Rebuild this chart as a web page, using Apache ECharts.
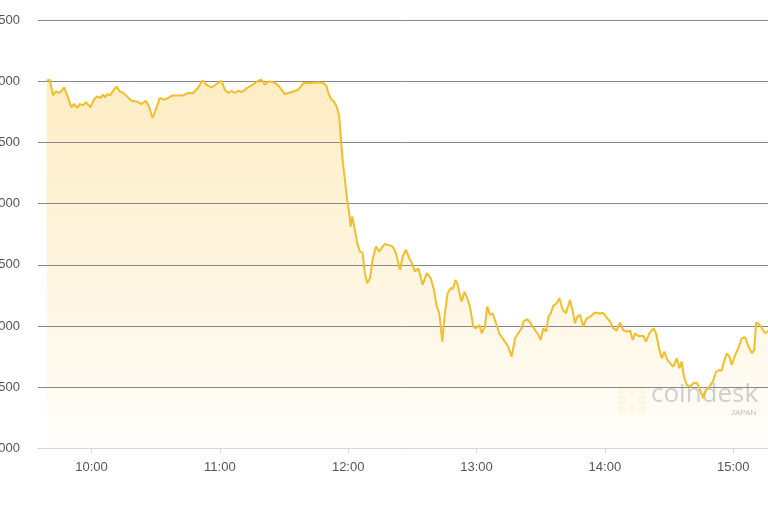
<!DOCTYPE html>
<html>
<head>
<meta charset="utf-8">
<script src="https://cdn.jsdelivr.net/npm/echarts@6/dist/echarts.min.js"></script>
<style>
html,body{margin:0;padding:0;background:#fff;}
#chart{width:768px;height:512px;}
</style>
</head>
<body>
<div id="chart"></div>
<script>
// time in minutes since midnight
const times = [579,580.5,582,583.3,584.8,586,587.2,588.8,590.6,591.9,
593.3,594.5,596.1,597.3,599.5,601.1,602.6,604.2,605.4,606.4,
607.3,608.6,610.1,611.7,613.2,614.8,616.7,618.7,621,623.4,
625.4,626.9,628.5,630.1,631.9,633.8,635.8,637.9,639.8,642.8,
645.2,647.5,649.9,651.9,653.8,656.1,658.5,660.8,662.3,663.9,
665.5,667,668.6,670.2,672.2,674,676.4,677.9,679.5,681.1,
682.6,684.9,687.3,690.4,693.5,696.6,699,702.1,705.2,706.8,
708.3,709.9,710.7,712.2,713.3,714.6,715.8,716.5,717.4,718.5,
719.5,720.5,721.1,721.9,723.1,724.2,725.5,726.7,727.8,728.9,
730.2,731.4,733,734.5,736.1,737.2,738.7,740.8,742.3,744.2,
745.5,747,748.5,749.7,751.2,752.8,754.8,756.7,758.6,760.1,
761.4,762.6,764,765.2,766.5,767.9,769.1,770.1,771,771.9,
773,774.3,775.4,776.9,778.5,779.7,781.3,782.4,783.9,785,
786.3,787.5,789.1,790.6,792.2,793.8,794.8,796.4,798,799.5,
801.1,801.9,803.7,805.3,807.3,808.9,810,811.2,812.5,813.6,
814.7,815.9,817.5,818.7,820.3,821.8,823.7,825,826,827.1,
828.4,829.9,831.2,833.1,834.9,836.5,837.7,839,840.5,842.4,
843.9,845.5,847.1,848.6,850.2,851.8,853,854.1,855.6,858,
859.2,860.8,862.7,863.9,865.5,866.6,867.8,869.2,870.5,872,
873.6,874.8,875.9,877,878.3,879.8,881.4,883,884.5,886,
887.3,888.8,890.4,892,893.5,894.6,895.9,897,898.2,899.3,
900.9,902.4,904,905.6,907.1,908.7,909.8,910.7,911.8,913.4,
914.9,916,918];

const prices = [10005,10012,9884,9917,9904,9922,9949,9876,9786,9814,
9781,9814,9802,9830,9786,9849,9876,9863,9890,9868,
9895,9884,9922,9957,9917,9904,9876,9841,9835,9814,
9841,9794,9699,9767,9863,9849,9863,9884,9884,9884,
9904,9904,9949,10007,9971,9949,9977,10004,9931,9904,
9922,9904,9922,9912,9939,9957,9985,10004,10012,9971,
9998,9993,9966,9895,9912,9930,9985,9985,9990,9990,
9985,9960,9904,9849,9835,9794,9712,9549,9358,9194,
9030,8922,8813,8895,8786,8677,8608,8600,8432,8350,
8391,8541,8649,8608,8649,8671,8663,8649,8595,8459,
8568,8623,8557,8514,8445,8473,8336,8432,8391,8295,
8159,8105,7873,8105,8268,8309,8309,8377,8350,8281,
8200,8281,8241,8159,7995,7982,8009,7941,7995,8159,
8091,8105,8023,7941,7900,7860,7832,7750,7900,7941,
7982,8036,8056,8023,7968,7927,7886,7982,7955,8077,
8105,8165,8187,8227,8132,8105,8214,8118,8023,8077,
8091,7995,8056,8077,8105,8110,8099,8110,8077,8036,
7982,7963,8028,7968,7954,7963,7886,7941,7919,7919,
7873,7941,7982,7941,7805,7737,7791,7723,7696,7668,
7737,7655,7709,7586,7519,7505,7533,7537,7478,7410,
7478,7505,7546,7627,7641,7635,7723,7778,7750,7682,
7764,7819,7900,7909,7832,7778,7805,8028,8023,7982,
7941,7954,7960];

const xTickValues = [600, 660, 720, 780, 840, 900]; // 10:00 ... 15:00
const yMin = 7000, yMax = 10500, yStep = 500;

const data = times.map((t, i) => [t, prices[i]]);
const fmtTime = v => Math.floor(v / 60) + ':' + String(Math.round(v % 60)).padStart(2, '0');
const fmtNum = v => v.toLocaleString('en-US');

const chart = echarts.init(document.getElementById('chart'), null, {renderer: 'canvas'});
const FONT = '"Liberation Sans", "DejaVu Sans", sans-serif';

chart.setOption({
  animation: false,
  backgroundColor: '#ffffff',
  grid: {left: 38, right: -8, top: 20, bottom: 63.5, containLabel: false, outerBoundsMode: 'none'},
  xAxis: {
    type: 'value',
    min: 575,
    max: 920,
    z: 2,
    splitLine: {show: false},
    axisLine: {show: true, lineStyle: {color: '#d3d6db', width: 1}},
    axisTick: {show: true, customValues: xTickValues, length: 5, lineStyle: {color: '#d3d6db'}},
    axisLabel: {
      customValues: xTickValues,
      formatter: fmtTime,
      color: '#555',
      fontSize: 13,
      fontFamily: FONT,
      margin: 12
    }
  },
  yAxis: {
    type: 'value',
    min: yMin,
    max: yMax,
    interval: yStep,
    z: 2,
    axisLine: {show: false},
    axisTick: {show: false},
    splitLine: {show: true, lineStyle: {color: '#888888', width: 1}},
    axisLabel: {
      formatter: fmtNum,
      color: '#555',
      fontSize: 13,
      fontFamily: FONT,
      margin: 18
    }
  },
  graphic: [
    {type: 'group', left: 618, top: 386, z: 2, children: [
      {type: 'rect', shape: {x: 0, y: 0, width: 8, height: 8, r: 1}, style: {fill: '#fbe4b0', opacity: 0.6}},
      {type: 'rect', shape: {x: 10, y: 0, width: 8, height: 8, r: 1}, style: {fill: '#fbe4b0', opacity: 0.6}},
      {type: 'rect', shape: {x: 20, y: 0, width: 8, height: 8, r: 1}, style: {fill: '#fbe4b0', opacity: 0.6}},
      {type: 'rect', shape: {x: 0, y: 10, width: 8, height: 8, r: 1}, style: {fill: '#fbe4b0', opacity: 0.6}},
      {type: 'rect', shape: {x: 20, y: 10, width: 8, height: 8, r: 1}, style: {fill: '#fbe4b0', opacity: 0.6}},
      {type: 'rect', shape: {x: 0, y: 20, width: 8, height: 8, r: 1}, style: {fill: '#fbe4b0', opacity: 0.6}},
      {type: 'rect', shape: {x: 10, y: 20, width: 8, height: 8, r: 1}, style: {fill: '#fbe4b0', opacity: 0.6}},
      {type: 'rect', shape: {x: 20, y: 20, width: 8, height: 8, r: 1}, style: {fill: '#fbe4b0', opacity: 0.6}}
    ]},
    {type: 'text', left: 651, top: 382, z: 2,
      style: {text: 'coindesk', fill: '#cfcfcf', font: '26px "Open Sans", sans-serif'}},
    {type: 'text', left: 731, top: 409, z: 2,
      style: {text: 'JAPAN', fill: '#bdbdbd', font: '8px "Liberation Sans", sans-serif'}}
  ],
  series: [
    {
      type: 'line',
      data: data,
      z: 1,
      showSymbol: false,
      symbol: 'none',
      lineStyle: {width: 0, opacity: 0},
      areaStyle: {
        origin: 'start',
        color: new echarts.graphic.LinearGradient(0, 0, 0, 1, [
          {offset: 0, color: '#fde5aa'},
          {offset: 1, color: '#fffdf8'}
        ])
      },
      silent: true
    },
    {
      type: 'line',
      data: data,
      z: 3,
      showSymbol: false,
      symbol: 'none',
      lineStyle: {color: '#f3bd2b', width: 2},
      silent: true
    }
  ]
});
</script>
</body>
</html>
